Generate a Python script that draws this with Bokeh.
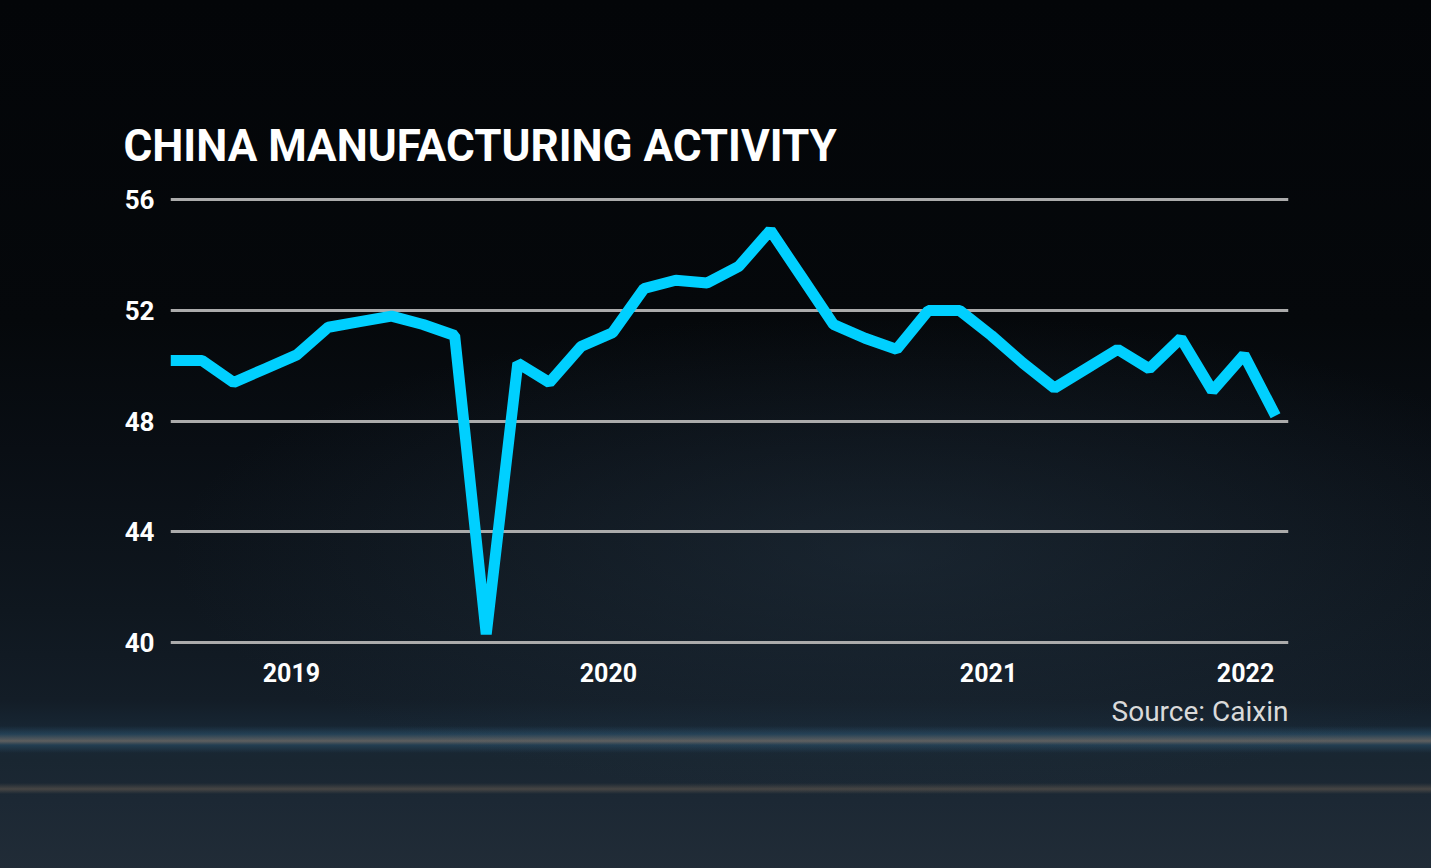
from bokeh.plotting import figure
from bokeh.models import Range1d, FixedTicker, Title
from bokeh.embed import file_html
from bokeh.resources import INLINE

# ---- data (Caixin China manufacturing PMI, monthly) ----
months = ["2019-04", "2019-05", "2019-06", "2019-07", "2019-08", "2019-09",
          "2019-10", "2019-11", "2019-12", "2020-01", "2020-02", "2020-03",
          "2020-04", "2020-05", "2020-06", "2020-07", "2020-08", "2020-09",
          "2020-10", "2020-11", "2020-12", "2021-01", "2021-02", "2021-03",
          "2021-04", "2021-05", "2021-06", "2021-07", "2021-08", "2021-09",
          "2021-10", "2021-11", "2021-12", "2022-01", "2022-02", "2022-03"]
pmi = [50.2, 50.2, 49.4, 49.9, 50.4, 51.4,
       51.6, 51.8, 51.5, 51.1, 40.3, 50.1,
       49.4, 50.7, 51.2, 52.8, 53.1, 53.0,
       53.6, 54.9, 53.2, 51.5, 51.0, 50.6,
       52.0, 52.0, 51.1, 50.1, 49.2, 49.9,
       50.6, 49.9, 51.0, 49.1, 50.4, 48.2]
y_ticks = [40, 44, 48, 52, 56]
year_labels = ["2019", "2020", "2021", "2022"]
year_tick_pos = [3.83, 13.87, 25.91, 34.05]   # month-index where each year label sits

title_text = "CHINA MANUFACTURING ACTIVITY"
source_text = "Source: Caixin"

x = list(range(len(months)))

W, H = 1431, 868
p = figure(width=W, height=H, output_backend="svg", toolbar_location=None,
           x_range=Range1d(0, 35.41), y_range=Range1d(39.53, 56.524),
           min_border_left=170, min_border_right=143,
           min_border_top=185, min_border_bottom=213)

p.styles = {
    "background": (
        "linear-gradient(to bottom, rgba(0,0,0,0) 0px, rgba(0,0,0,0) 726px, "
        "rgba(60,115,150,0.32) 734px, rgba(170,155,140,0.48) 741px, rgba(60,115,150,0.30) 745px, "
        "rgba(0,0,0,0) 753px, rgba(0,0,0,0) 783px, rgba(150,125,100,0.35) 789px, rgba(0,0,0,0) 794px), "
        "radial-gradient(ellipse 50% 28% at 62% 64%, rgba(42,60,76,0.40), rgba(0,0,0,0) 100%), "
        "linear-gradient(to bottom, #030508 0px, #05080b 320px, #090e14 450px, #0f171f 610px, "
        "#131d27 700px, #182836 735px, #192631 760px, #1c2834 800px, #212c37 868px)"
    )
}
p.background_fill_alpha = 0
p.border_fill_alpha = 0
p.outline_line_color = None

# grid
p.xgrid.visible = False
p.ygrid.ticker = FixedTicker(ticks=y_ticks)
p.ygrid.grid_line_color = "#ababab"
p.ygrid.grid_line_width = 3

# axes
p.yaxis.ticker = FixedTicker(ticks=y_ticks)
p.xaxis.ticker = FixedTicker(ticks=year_tick_pos)
p.xaxis.major_label_overrides = {pos: lab for pos, lab in zip(year_tick_pos, year_labels)}
for ax in (p.xaxis[0], p.yaxis[0]):
    ax.axis_line_color = None
    ax.major_tick_line_color = None
    ax.minor_tick_line_color = None
    ax.major_tick_out = 0
    ax.major_tick_in = 0
    ax.major_label_text_color = "#ffffff"
    ax.major_label_text_font = "Roboto"
    ax.major_label_text_font_style = "bold"
p.yaxis.major_label_text_font_size = "26px"
p.yaxis.major_label_standoff = 16
p.xaxis.major_label_text_font_size = "25px"
p.xaxis.major_label_standoff = 7

# data line
p.line(x, pmi, line_color="#00d0ff", line_width=11, line_join="bevel")

# title and source
p.title = Title(text=title_text, text_font="Roboto", text_font_style="bold",
                text_font_size="44px", text_color="#ffffff", align="left",
                offset=-47, standoff=27)
p.add_layout(Title(text=source_text, text_font="Roboto", text_font_style="normal",
                   text_font_size="28px", text_color="#dadada", align="right",
                   standoff=17), "below")

open("out.html", "w").write(file_html(p, INLINE))
